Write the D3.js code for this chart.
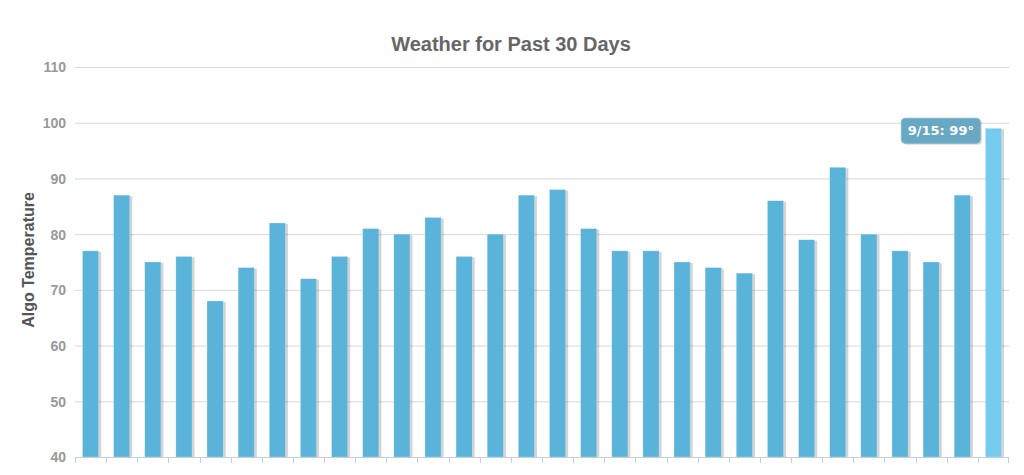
<!DOCTYPE html>
<html>
<head>
<meta charset="utf-8">
<script src="https://cdn.jsdelivr.net/npm/d3@7"></script>
<style>
  body { margin: 0; background: #fff; }
  #chart { width: 1024px; height: 475px; }
  .grid line { stroke: #d8d8d8; }
  .grid path { display: none; }
  .yAxis text { fill: #999; font: bold 14px "Liberation Sans", Arial, sans-serif; }
  .yAxis path, .yAxis line { display: none; }
</style>
</head>
<body>
<div id="chart"></div>
<script>
const days = ["8/17","8/18","8/19","8/20","8/21","8/22","8/23","8/24","8/25","8/26",
              "8/27","8/28","8/29","8/30","8/31","9/1","9/2","9/3","9/4","9/5",
              "9/6","9/7","9/8","9/9","9/10","9/11","9/12","9/13","9/14","9/15"];
const temps = [77, 87, 75, 76, 68, 74, 82, 72, 76, 81,
               80, 83, 76, 80, 87, 88, 81, 77, 77, 75,
               74, 73, 86, 79, 92, 80, 77, 75, 87, 99];
const yTicks = [40, 50, 60, 70, 80, 90, 100, 110];
const hoverDay = "9/15";

const width = 1024;
const height = 475;
const margin = { top: 67, left: 75, right: 15, bottom: 18 };

const svg = d3.select("#chart")
    .append("svg")
    .attr("width", width)
    .attr("height", height);

const xScale = d3.scaleBand()
    .domain(days)
    .range([margin.left, width - margin.right])
    .paddingInner(0.48)
    .paddingOuter(0.24);

const yScale = d3.scaleLinear()
    .domain([40, 110])
    .range([height - margin.bottom, margin.top]);

// gridlines
svg.append("g")
    .attr("class", "grid")
    .attr("transform", `translate(${margin.left},0)`)
    .call(d3.axisLeft(yScale).tickValues(yTicks)
        .tickSize(-(width - margin.left - margin.right)).tickFormat(""));

// y labels
svg.append("g")
    .attr("class", "yAxis")
    .attr("transform", `translate(${margin.left - 9},0)`)
    .call(d3.axisLeft(yScale).tickValues(yTicks).tickSize(0).tickPadding(0))
    .selectAll("text").attr("dy", "0.35em");

const bandStart = d => margin.left + days.indexOf(d) * ((width - margin.left - margin.right) / days.length);

// bar shadows
svg.selectAll("rect.shadow")
    .data(days)
    .enter()
    .append("rect")
        .attr("class", "shadow")
        .attr("x", d => xScale(d) + 1.5)
        .attr("y", (d, i) => yScale(temps[i]) + 1)
        .attr("width", xScale.bandwidth() + 1)
        .attr("height", (d, i) => yScale(40) - yScale(temps[i]) - 1)
        .attr("fill", "#000")
        .attr("opacity", 0.17);

// bars
svg.selectAll("rect.bar")
    .data(days)
    .enter()
    .append("rect")
        .attr("class", "bar")
        .attr("x", d => xScale(d))
        .attr("y", (d, i) => yScale(temps[i]))
        .attr("width", xScale.bandwidth())
        .attr("height", (d, i) => yScale(40) - yScale(temps[i]))
        .attr("fill", d => d === hoverDay ? "#74cbee" : "#5ab4d9")
        .attr("stroke", "#ffffff")
        .attr("stroke-opacity", 0.4)
        .attr("stroke-width", 0.6);

// x axis line and ticks
const xAxis = svg.append("g");
xAxis.append("line")
    .attr("x1", margin.left).attr("x2", width - margin.right)
    .attr("y1", yScale(40) + 0.5).attr("y2", yScale(40) + 0.5)
    .attr("stroke", "#c0d0e0");
xAxis.selectAll("line.tick")
    .data(days)
    .enter()
    .append("line")
        .attr("class", "tick")
        .attr("x1", d => Math.round(bandStart(d)) + 0.5)
        .attr("x2", d => Math.round(bandStart(d)) + 0.5)
        .attr("y1", yScale(40))
        .attr("y2", yScale(40) + 6)
        .attr("stroke", "#c0d0e0");
xAxis.append("line")
    .attr("x1", width - margin.right - 0.5).attr("x2", width - margin.right - 0.5)
    .attr("y1", yScale(40)).attr("y2", yScale(40) + 6)
    .attr("stroke", "#c0d0e0");

// title
svg.append("text")
    .attr("x", 511)
    .attr("y", 51)
    .attr("text-anchor", "middle")
    .attr("fill", "#666")
    .style("font", "bold 20px 'Liberation Sans', Arial, sans-serif")
    .text("Weather for Past 30 Days");

// y axis title
svg.append("text")
    .attr("transform", "rotate(-90)")
    .attr("x", -260)
    .attr("y", 34)
    .attr("text-anchor", "middle")
    .attr("fill", "#555")
    .style("font", "bold 16px 'Liberation Sans', Arial, sans-serif")
    .text("Algo Temperature");

// tooltip
const hi = days.indexOf(hoverDay);
const tipW = 79, tipH = 25;
const tipX = xScale(hoverDay) - tipW - 5;
const tipY = yScale(temps[hi]) - 10;
const tip = svg.append("g").attr("transform", `translate(${tipX},${tipY})`);
tip.append("rect")
    .attr("x", 1.5).attr("y", 1.5)
    .attr("width", tipW).attr("height", tipH).attr("rx", 4)
    .attr("fill", "#000").attr("opacity", 0.15);
tip.append("rect")
    .attr("width", tipW).attr("height", tipH).attr("rx", 4)
    .attr("fill", "#68a8c2")
    .attr("stroke", "#7fb6cc").attr("stroke-width", 1);
tip.append("text")
    .attr("x", tipW / 2).attr("y", 17)
    .attr("text-anchor", "middle")
    .attr("fill", "#fff")
    .style("font", "bold 13px 'DejaVu Sans', Verdana, sans-serif")
    .text(`${hoverDay}: ${temps[hi]}°`);
</script>
</body>
</html>
